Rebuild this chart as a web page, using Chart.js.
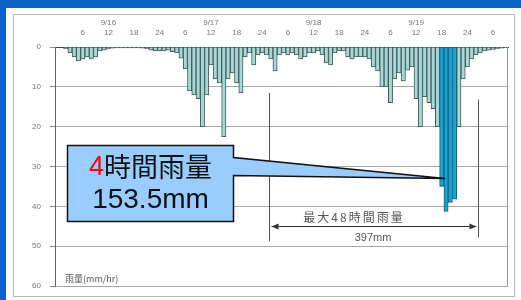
<!DOCTYPE html>
<html>
<head>
<meta charset="utf-8">
<script src="https://cdn.jsdelivr.net/npm/chart.js@4.4.0/dist/chart.umd.min.js"></script>
<style>
  html, body { margin: 0; padding: 0; background: #0b63c4; }
  #wrap { width: 521px; height: 300px; position: relative; }
</style>
</head>
<body>
<div id="wrap"><canvas id="rain"></canvas></div>
<script>
// hourly rainfall from 9/16 0:00 (mm/hr)
const days = ["9/16", "9/17", "9/18", "9/19", "9/20"];
const hourTicks = [6, 12, 18, 24];
const rain = [
  0, 0, 0.5, 1.5, 2.5, 3.5, 3, 2.5, 3, 2.5, 1, 0.8,
  0.5, 0.3, 0.2, 0.2, 0.2, 0.2, 0.2, 0.2, 0.3, 0.5, 0.8, 1,
  1, 1, 0.8, 1.2, 1.5, 2.8, 5.5, 11, 12, 13, 20, 12,
  4.5, 8, 9, 22.5, 8, 6.5, 9, 11.5, 2.5, 1.5, 4.5, 2,
  1.5, 2, 3, 6, 2, 1.5, 2, 1.5, 2, 3, 2.5, 1.5,
  1.5, 1, 2, 4, 4.5, 1.5, 1, 1, 2.5, 3, 2.5, 2.5,
  2.5, 3, 5, 6, 10, 10, 14, 8, 6.5, 8.5, 5.8, 5,
  13, 20, 12.5, 14, 15.5, 20, 35, 41.3, 39, 38.2, 20, 8,
  5, 3, 2, 1.5, 1, 0.8, 0.6, 0.4, 0.3, 0.1
];
const peak4 = [90, 91, 92, 93];      // 4時間雨量 153.5mm
const span48 = [50, 99];             // 最大48時間雨量 397mm
const yTicks = [0, 10, 20, 30, 40, 50, 60];

// category labels: hour of day, with the date over noon
const labels = rain.map((v, i) => {
  const h = i % 24;
  const hh = h === 0 ? 24 : h;
  if (h === 12) return [days[Math.floor(i / 24)], "12"];
  if (hourTicks.includes(hh) && i > 0) return String(hh);
  return "";
});

const tickFont = { family: "'Liberation Sans', 'Noto Sans CJK JP'", size: 8, lineHeight: 1.25 };

const decor = {
  id: "decor",
  beforeDraw(chart) {
    const c = chart.ctx;
    c.save();
    c.fillStyle = "#0b63c4";
    c.fillRect(0, 0, chart.width, chart.height);
    c.fillStyle = "#ffffff";
    c.fillRect(6, 8, 515, 292);
    c.strokeStyle = "#b8b8b8";
    c.lineWidth = 1;
    c.strokeRect(13.5, 14.5, 501, 282);
    c.restore();
  },
  afterDraw(chart) {
    const c = chart.ctx;
    const x = chart.scales.x, y = chart.scales.y;
    const a = chart.chartArea;
    const half = (x.getPixelForValue(1) - x.getPixelForValue(0)) / 2;
    const edge = i => x.getPixelForValue(i) - half;
    c.save();
    // right frame of plot
    c.strokeStyle = "#9a9a9a";
    c.beginPath();
    c.moveTo(a.right - 0.5, a.top); c.lineTo(a.right - 0.5, a.bottom);
    c.stroke();

    // 48h bracket
    const xl = Math.round(edge(span48[0])) + 0.5;
    const xr = Math.round(edge(span48[1])) + 0.5;
    c.strokeStyle = "#555";
    c.lineWidth = 1;
    c.beginPath();
    c.moveTo(xl, y.getPixelForValue(11.5)); c.lineTo(xl, y.getPixelForValue(48.8));
    c.moveTo(xr, y.getPixelForValue(13.2)); c.lineTo(xr, y.getPixelForValue(47.8));
    c.stroke();
    const ay = Math.round(y.getPixelForValue(45)) + 0.5;
    c.strokeStyle = "#333";
    c.fillStyle = "#333";
    c.beginPath();
    c.moveTo(xl + 2, ay); c.lineTo(xr - 2, ay);
    c.stroke();
    c.beginPath();
    c.moveTo(xl + 2, ay); c.lineTo(xl + 9, ay - 3); c.lineTo(xl + 9, ay + 3); c.closePath();
    c.moveTo(xr - 2, ay); c.lineTo(xr - 9, ay - 3); c.lineTo(xr - 9, ay + 3); c.closePath();
    c.fill();
    c.fillStyle = "#555";
    c.textAlign = "center";
    c.textBaseline = "middle";
    c.font = "12px 'Noto Sans CJK JP'";
    c.letterSpacing = "2px";
    c.fillText("最大48時間雨量", 354, y.getPixelForValue(42.8));
    c.letterSpacing = "0px";
    c.font = "11px 'Liberation Sans'";
    c.fillText("397mm", 373, y.getPixelForValue(48));

    // unit label
    c.textAlign = "left";
    c.font = "9px 'Noto Sans CJK JP'";
    c.fillStyle = "#555";
    c.fillText("雨量(mm/hr)", 65, y.getPixelForValue(58.2));

    // callout
    const tipX = x.getPixelForValue(peak4[1]) - 1;
    const tipY = y.getPixelForValue(33);
    const bx = 67.5, by = 145.5, bw = 166, bh = 76;
    c.fillStyle = "#99ccff";
    c.strokeStyle = "#111";
    c.lineWidth = 1.5;
    c.beginPath();
    c.moveTo(bx, by);
    c.lineTo(bx + bw, by);
    c.lineTo(bx + bw, by + 12);
    c.lineTo(tipX, tipY);
    c.lineTo(bx + bw, by + 30);
    c.lineTo(bx + bw, by + bh);
    c.lineTo(bx, by + bh);
    c.closePath();
    c.fill();
    c.stroke();

    c.textBaseline = "middle";
    c.textAlign = "left";
    c.font = "27px 'Liberation Sans', 'Noto Sans CJK JP'";
    const w4 = c.measureText("4").width;
    c.font = "27px 'Noto Sans CJK JP'";
    const wr = c.measureText("時間雨量").width;
    const sx = bx + bw / 2 - (w4 + wr) / 2;
    c.font = "27px 'Liberation Sans', 'Noto Sans CJK JP'";
    c.fillStyle = "#ff0000";
    c.fillText("4", sx, 168);
    c.font = "27px 'Noto Sans CJK JP'";
    c.fillStyle = "#111";
    c.fillText("時間雨量", sx + w4, 167);
    c.textAlign = "center";
    c.font = "28px 'Liberation Sans'";
    c.fillText("153.5mm", bx + bw / 2, 200);
    c.restore();
  }
};

new Chart(document.getElementById("rain"), {
  type: "bar",
  data: {
    labels: labels,
    datasets: [{
      data: rain,
      backgroundColor: ctx => peak4.includes(ctx.dataIndex) ? "#1aa2d2" : "#a8d7d6",
      borderColor: ctx => peak4.includes(ctx.dataIndex) ? "#0d6183" : "#3f5c5c",
      borderWidth: 1,
      barPercentage: 1,
      categoryPercentage: 1
    }]
  },
  options: {
    responsive: true,
    maintainAspectRatio: false,
    animation: false,
    layout: { padding: { left: 0, top: 0, right: 13, bottom: 13 } },
    scales: {
      x: {
        position: "top",
        grid: { display: false, drawTicks: false },
        border: { display: true, color: "#444", width: 1 },
        ticks: {
          autoSkip: false,
          maxRotation: 0,
          padding: 9,
          color: "#777",
          font: tickFont
        },
        afterFit: s => { s.height = 47; }
      },
      y: {
        reverse: true,
        min: 0,
        max: 60,
        afterBuildTicks: s => { s.ticks = yTicks.map(v => ({ value: v })); },
        grid: {
          color: ctx => ctx.tick && ctx.tick.value === 0 ? "rgba(0,0,0,0)" : "#a6a6a6",
          tickColor: "#888",
          tickLength: 5
        },
        border: { display: true, color: "#666", width: 1 },
        ticks: { color: "#777", padding: 9, font: tickFont },
        afterFit: s => { s.width = 55; }
      }
    },
    plugins: {
      legend: { display: false },
      tooltip: { enabled: false }
    }
  },
  plugins: [decor]
});
</script>
</body>
</html>
